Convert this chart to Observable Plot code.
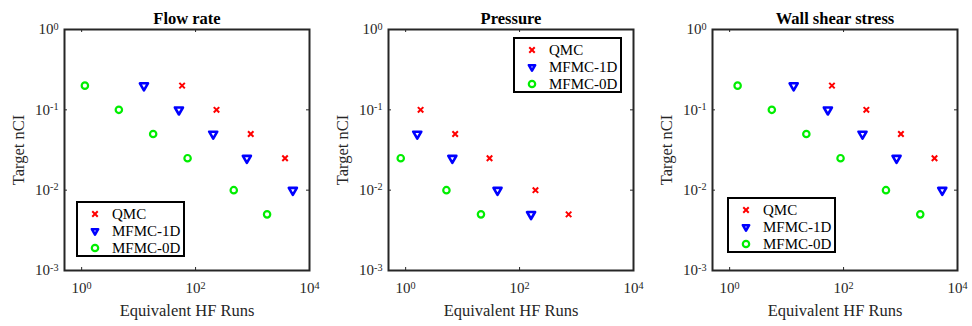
<!DOCTYPE html>
<html><head><meta charset="utf-8">
<script src="https://cdn.jsdelivr.net/npm/d3@7"></script>
<script src="https://cdn.jsdelivr.net/npm/@observablehq/plot@0.6"></script>
<style>
html,body{margin:0;padding:0;background:#fff;}
#row{display:flex;width:972px;height:326px;}
.panel{position:relative;width:324px;height:326px;}
.panel svg.plot{display:block;}
svg.plot g[aria-label$="tick label"] text{font-size:15px;}
svg.plot g[aria-label$="axis label"] text{font-size:16.5px;}
.legend{position:absolute;overflow:visible;}
</style></head><body><div id="row"></div>
<script>
// ---- data ----
const panelTitles = ["Flow rate", "Pressure", "Wall shear stress"];
const seriesNames = ["QMC", "MFMC-1D", "MFMC-0D"];
const xTicks = [1, 100, 10000];
const yTicks = [1, 0.1, 0.01, 0.001];

// Flow rate
const flowQmcRuns = [58, 233, 930, 3720];
const flowQmcNci  = [0.2, 0.1, 0.05, 0.025];
const flow1dRuns  = [12.4, 51, 204, 795, 5100];
const flow1dNci   = [0.2, 0.1, 0.05, 0.025, 0.01];
const flow0dRuns  = [1.14, 4.5, 18, 72.4, 468, 1800];
const flow0dNci   = [0.2, 0.1, 0.05, 0.025, 0.01, 0.005];

// Pressure
const presQmcRuns = [1.83, 7.4, 29.7, 190, 726];
const presQmcNci  = [0.1, 0.05, 0.025, 0.01, 0.005];
const pres1dRuns  = [1.6, 6.6, 41, 159];
const pres1dNci   = [0.05, 0.025, 0.01, 0.005];
const pres0dRuns  = [0.82, 5.2, 21];
const pres0dNci   = [0.025, 0.01, 0.005];

// Wall shear stress
const wssQmcRuns = [62.5, 251, 1016, 3950];
const wssQmcNci  = [0.2, 0.1, 0.05, 0.025];
const wss1dRuns  = [13.3, 53, 215, 851, 5400];
const wss1dNci   = [0.2, 0.1, 0.05, 0.025, 0.01];
const wss0dRuns  = [1.38, 5.5, 22.2, 88.5, 555, 2220];
const wss0dNci   = [0.2, 0.1, 0.05, 0.025, 0.01, 0.005];

// ---- styling ----
const seriesStyle = {
  "QMC":     {symbol: "times",    r: 2.6, stroke: "#ff0000", strokeWidth: 2,   rotate: 0},
  "MFMC-1D": {symbol: "triangle", r: 3.0, stroke: "#0000ff", strokeWidth: 2.6, rotate: 180},
  "MFMC-0D": {symbol: "circle",   r: 3.2, stroke: "#00ee00", strokeWidth: 2.2, rotate: 0}
};
const legendPos = [
  {left: 76, top: 201},
  {left: 189, top: 37},
  {left: 79, top: 197}
];

const panelSeries = [
  [[flowQmcRuns, flowQmcNci], [flow1dRuns, flow1dNci], [flow0dRuns, flow0dNci]],
  [[presQmcRuns, presQmcNci], [pres1dRuns, pres1dNci], [pres0dRuns, pres0dNci]],
  [[wssQmcRuns, wssQmcNci], [wss1dRuns, wss1dNci], [wss0dRuns, wss0dNci]]
];

const W = 324, H = 326, mL = 64, mR = 15, mT = 29, mB = 56;
const innerW = W - mL - mR, innerH = H - mT - mB;
const axisColor = "#262626";
const ns = "http://www.w3.org/2000/svg";

const fmt = d => "10^" + Math.round(Math.log10(d));

function superscriptTicks(svg) {
  svg.querySelectorAll('g[aria-label$="tick label"] text').forEach(t => {
    const m = t.textContent.match(/^10\^(.+)$/);
    if (!m) return;
    t.textContent = "";
    const a = document.createElementNS(ns, "tspan");
    a.textContent = "10";
    t.appendChild(a);
    const b = document.createElementNS(ns, "tspan");
    b.setAttribute("dy", "-0.45em");
    b.setAttribute("font-size", "0.68em");
    b.textContent = m[1];
    t.appendChild(b);
  });
}

function makeLegend(pos) {
  const lw = 109, lh = 56;
  const svg = d3.create("svg").attr("class", "legend")
    .attr("width", lw).attr("height", lh)
    .style("left", pos.left + "px").style("top", pos.top + "px");
  svg.append("rect").attr("x", 1).attr("y", 1).attr("width", lw - 2).attr("height", lh - 2)
    .attr("fill", "#fff").attr("stroke", "#000").attr("stroke-width", 2);
  const symMap = {times: d3.symbolTimes, triangle: d3.symbolTriangle2, circle: d3.symbolCircle};
  seriesNames.forEach((name, i) => {
    const st = seriesStyle[name];
    const cy = 13 + i * 17;
    svg.append("path")
      .attr("d", d3.symbol(symMap[st.symbol], st.r * st.r * Math.PI)())
      .attr("transform", `translate(19,${cy}) rotate(${st.rotate})`)
      .attr("fill", "none").attr("stroke", st.stroke).attr("stroke-width", st.strokeWidth)
      .attr("stroke-linejoin", "round");
    svg.append("text").attr("x", 36).attr("y", cy).attr("dy", "0.35em")
      .attr("font-family", "'Liberation Serif','Times New Roman',serif")
      .attr("font-size", 15).attr("fill", "#000").text(name);
  });
  return svg.node();
}

const row = document.getElementById("row");
panelTitles.forEach((title, p) => {
  const rows = [];
  panelSeries[p].forEach(([runs, nci], s) => {
    runs.forEach((r, i) => rows.push({series: seriesNames[s], runs: r, nci: nci[i]}));
  });
  const dotMarks = seriesNames.map(name => {
    const st = seriesStyle[name];
    return Plot.dot(rows.filter(d => d.series === name), {
      x: "runs", y: "nci", symbol: st.symbol, r: st.r, stroke: st.stroke,
      strokeWidth: st.strokeWidth, rotate: st.rotate, fill: "none", strokeLinejoin: "round"
    });
  });
  const chart = Plot.plot({
    width: W, height: H,
    marginLeft: mL, marginRight: mR, marginTop: mT, marginBottom: mB,
    style: {fontFamily: "'Liberation Serif','Times New Roman',serif", color: axisColor, background: "#fff"},
    x: {type: "log", domain: [0.5, 1e4]},
    y: {type: "log", domain: [1e-3, 1]},
    marks: [
      Plot.ruleX(xTicks, {x: d => d, insetTop: innerH - 3, stroke: axisColor}),
      Plot.ruleX(xTicks, {x: d => d, insetBottom: innerH - 3, stroke: axisColor}),
      Plot.ruleY(yTicks, {y: d => d, insetRight: innerW - 3, stroke: axisColor}),
      Plot.ruleY(yTicks, {y: d => d, insetLeft: innerW - 3, stroke: axisColor}),
      Plot.axisX(xTicks, {anchor: "bottom", tickSize: 0, tickPadding: 12, tickFormat: fmt,
        label: "Equivalent HF Runs", labelAnchor: "center", labelOffset: 45, labelArrow: "none"}),
      Plot.axisY(yTicks, {anchor: "left", tickSize: 0, tickPadding: 6, tickFormat: fmt,
        label: "Target nCI", labelAnchor: "center", labelOffset: 52, labelArrow: "none"}),
      Plot.frame({stroke: axisColor, strokeWidth: 2}),
      ...dotMarks,
      Plot.text([title], {text: d => d, frameAnchor: "top", lineAnchor: "bottom", dy: -6,
        fontWeight: "bold", fontSize: 16.5, fill: "#000"})
    ]
  });
  chart.classList.add("plot");
  superscriptTicks(chart);
  const panel = document.createElement("div");
  panel.className = "panel";
  panel.appendChild(chart);
  panel.appendChild(makeLegend(legendPos[p]));
  row.appendChild(panel);
});
</script>
</body></html>
